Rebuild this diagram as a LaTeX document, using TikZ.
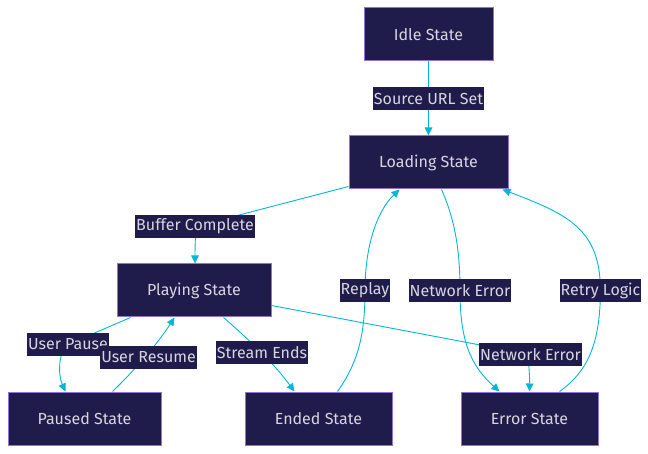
\documentclass[tikz,border=0pt]{standalone}
\usepackage{fontspec}
\setmainfont{Fira Sans}
\usetikzlibrary{arrows.meta,backgrounds}
\definecolor{nodefill}{RGB}{31,27,75}
\definecolor{nodeline}{RGB}{147,112,219}
\definecolor{txt}{RGB}{214,214,222}
\definecolor{edgecol}{RGB}{0,184,212}
\tikzset{
  state/.style={draw=nodeline, line width=1pt, fill=nodefill, text=txt, font=\fontsize{16}{19}\selectfont, minimum height=53pt, inner sep=0pt},
  elabel/.style={fill=nodefill, text=txt, font=\fontsize{16}{19}\selectfont, minimum height=23pt, inner xsep=1pt, inner ysep=0pt},
  edge/.style={draw=edgecol, line width=0.9pt, -{Triangle[length=8pt,width=7.5pt]}}
}
\begin{document}
\begin{tikzpicture}[x=1pt,y=-1pt]
\useasboundingbox (0,0) rectangle (648,454);
\node[state, minimum width=129pt] (idle) at (428.5,34.5) {Idle State};
\node[state, minimum width=159pt] (loading) at (428.5,162.5) {Loading State};
\node[state, minimum width=154pt] (playing) at (194,290.5) {Playing State};
\node[state, minimum width=153pt] (paused) at (84.5,418.5) {Paused State};
\node[state, minimum width=147pt] (ended) at (318.5,418.5) {Ended State};
\node[state, minimum width=137pt] (error) at (529.5,418.5) {Error State};

\node[elabel] (lsrc) at (428.5,98.5) {Source URL Set};
\node[elabel] (lbuf) at (195,226.5) {Buffer Complete};
\node[elabel] (lpause) at (68,344.5) {User Pause};
\node[elabel] (lresume) at (148.5,357.5) {User Resume};
\node[elabel] (lstream) at (262,352.5) {Stream Ends};
\node[elabel] (lreplay) at (365,290.5) {Replay};
\node[elabel] (lnet) at (460,290.5) {Network Error};
\node[elabel] (lretry) at (600.5,290.5) {Retry Logic};
\node[elabel] (lnet2) at (530.5,354.5) {Network Error};

\begin{pgfonlayer}{background}
\draw[edge] (idle.south) -- (loading.north);
\draw[edge] ([yshift=3pt]loading.south west) -- (lbuf.center) .. controls (196,231) and (195,242) .. ([xshift=1pt]playing.north);
\draw[edge] ([xshift=14pt]playing.south west) -- (lpause.center) .. controls (58,352) and (58,375) .. ([xshift=58pt]paused.north west);
\draw[edge] ([xshift=105pt]paused.north west) .. controls (140,365) and (160,340) .. ([xshift=58pt]playing.south west);
\draw[edge] ([xshift=107pt]playing.south west) .. controls (255,345) and (275,365) .. ([xshift=50pt]ended.north west);
\draw[edge] ([xshift=93pt]ended.north west) .. controls (360,360) and (365,330) .. (lreplay.center) .. controls (365,240) and (380,208) .. ([xshift=51pt]loading.south west);
\draw[edge] ([xshift=93pt]loading.south west) .. controls (455,220) and (460,250) .. (lnet.center) .. controls (460,340) and (470,365) .. ([xshift=39pt]error.north west);
\draw[edge] ([yshift=12pt]playing.south east) -- (lnet2.center) .. controls (527,360) and (530,372) .. (error.north);
\draw[edge] ([xshift=99pt]error.north west) .. controls (590,370) and (600,340) .. (lretry.center) .. controls (600,230) and (570,215) .. ([xshift=-6pt]loading.south east);
\end{pgfonlayer}
\end{tikzpicture}
\end{document}
